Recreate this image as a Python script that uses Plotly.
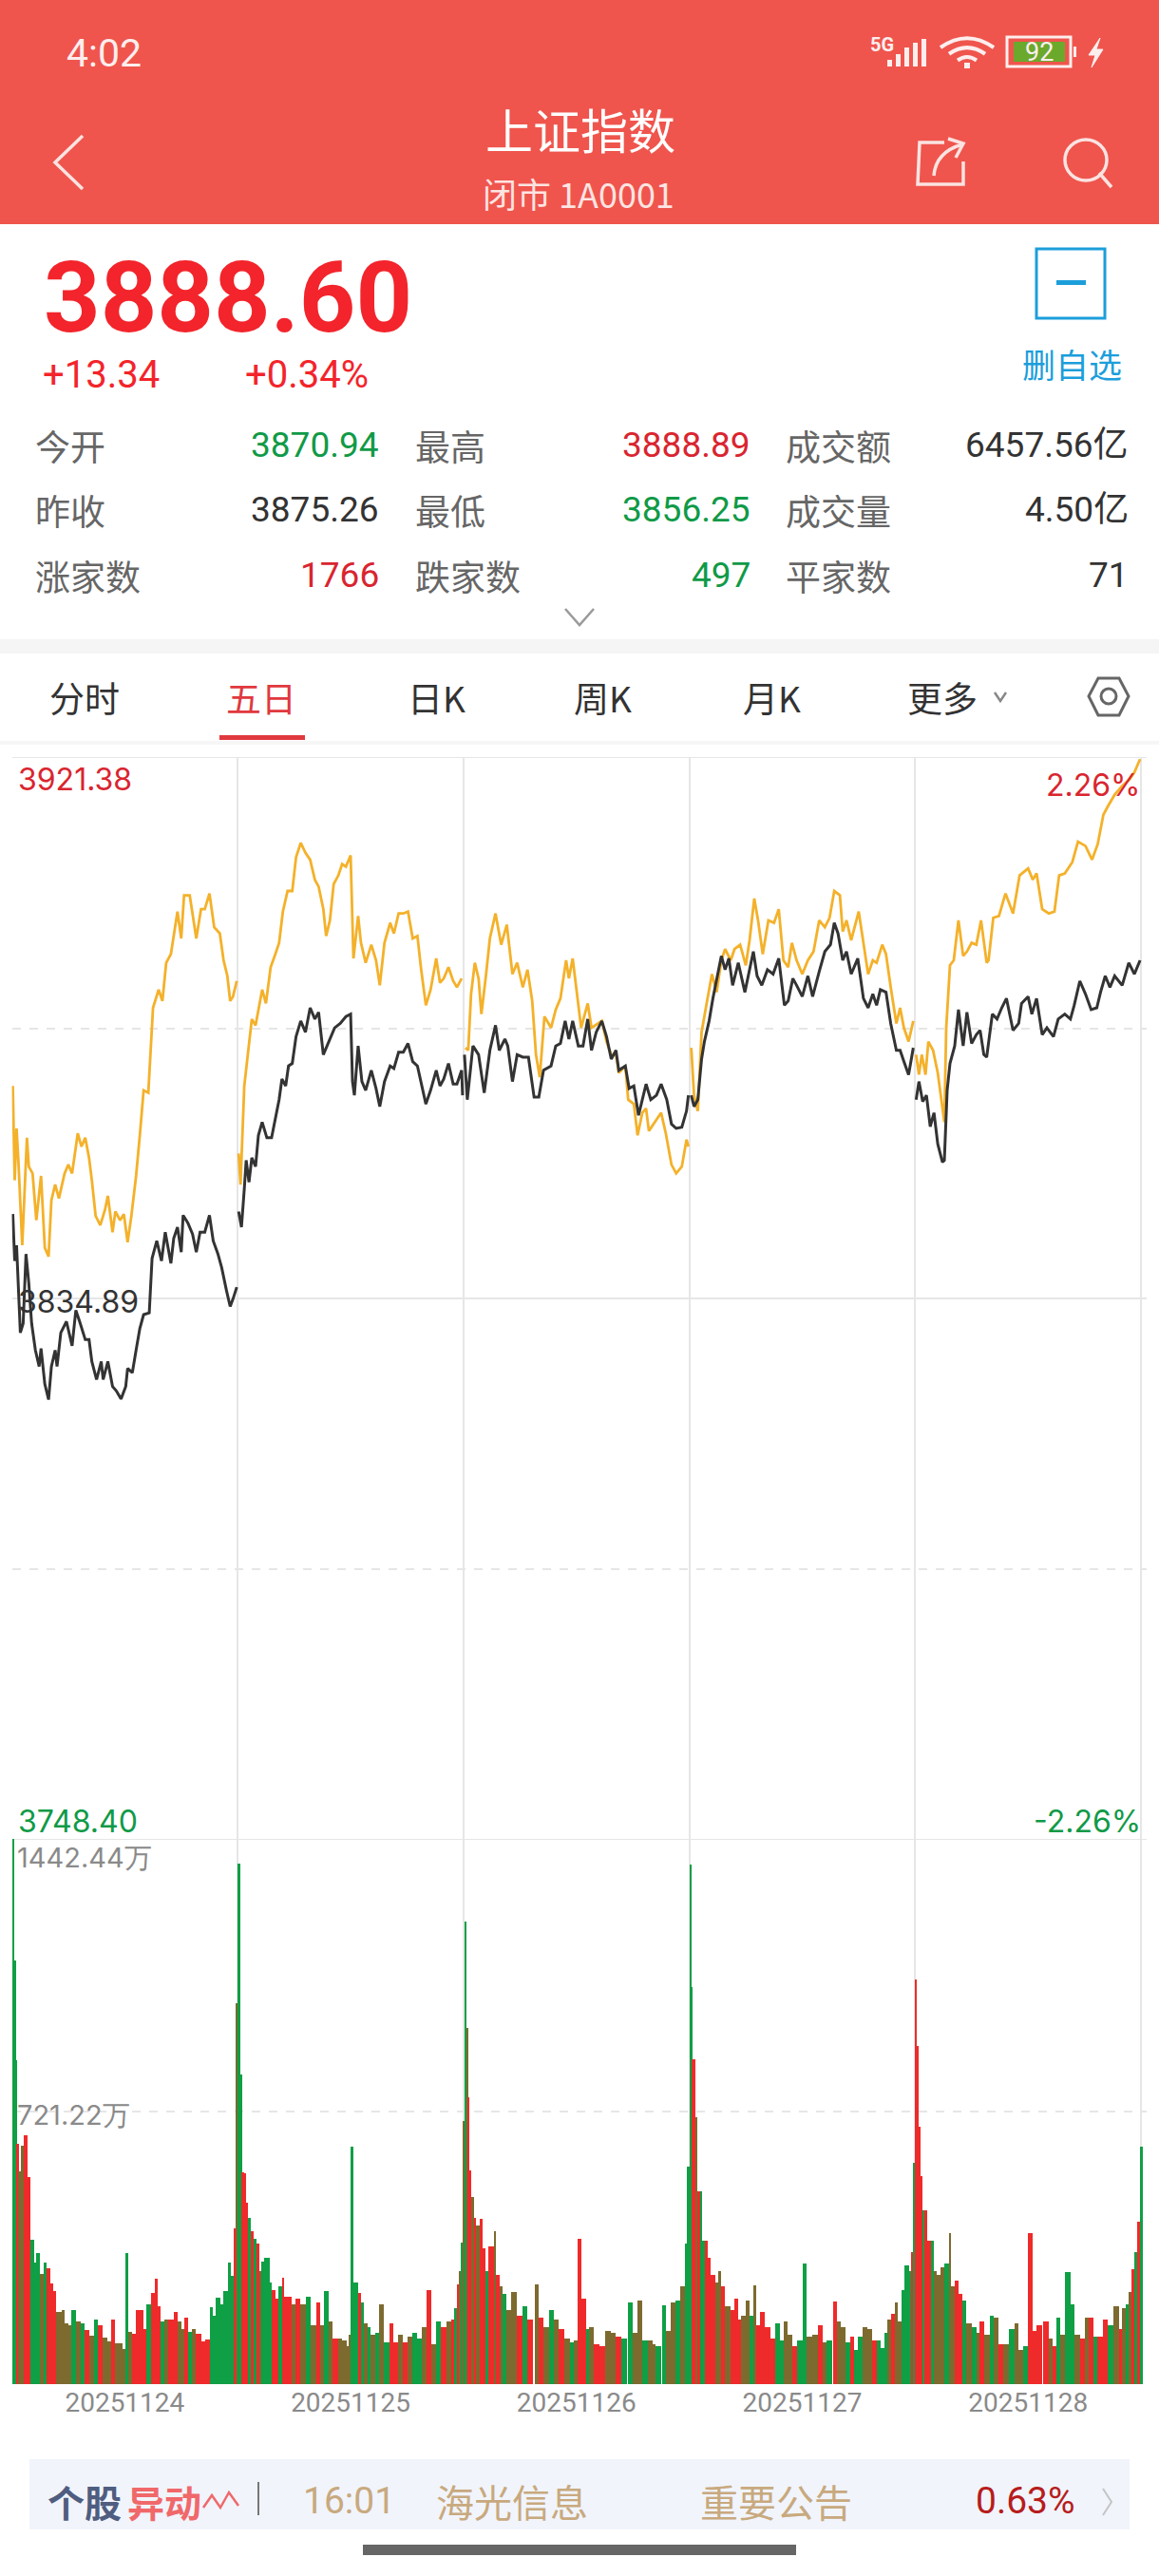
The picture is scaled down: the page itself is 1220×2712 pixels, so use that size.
"""Shanghai Composite five-day screen, rebuilt with Plotly."""

import numpy as np
import plotly.graph_objects as go

W, H = 1220, 2712

# ---------------------------------------------------------------------------
# Data
# ---------------------------------------------------------------------------

PRICE_HIGH = 3921.38
PRICE_MID = 3834.89
PRICE_LOW = 3748.40
VOLUME_MAX = 1442.44
DAY_MINUTES = 240
DATES = ["20251124", "20251125", "20251126", "20251127", "20251128"]

d1_black_min = [1,3,5,9,12,15,18,21,25,29,31,35,39,42,46,48,52,58,64,68,72,78,82,85,90,95,97,102,107,111,116,121,123,128,132,136,140,146,149,154,159,163,169,172,176,180,182,187,192,196,200,205,210,214,219,223,228,232,235,239]
d1_black = [3848.4,3840.9,3843.4,3829.4,3830.9,3842.0,3837.3,3830.9,3826.6,3824.0,3826.9,3821.2,3818.7,3824.0,3826.6,3824.0,3829.4,3831.2,3827.3,3833.0,3831.2,3828.3,3828.3,3824.8,3821.9,3824.8,3821.9,3824.8,3820.8,3820.1,3818.8,3820.8,3823.7,3823.0,3826.6,3830.1,3832.3,3832.6,3841.3,3844.1,3840.9,3845.5,3840.5,3844.5,3846.3,3842.3,3848.2,3847.0,3845.2,3842.3,3845.5,3845.5,3848.2,3844.1,3842.0,3839.8,3836.2,3833.6,3834.8,3836.7]
d1_gold_min = [1,3,5,7,11,13,16,18,22,26,31,35,39,42,46,50,56,60,64,70,74,78,82,85,89,94,99,102,107,110,115,119,123,127,132,136,140,145,150,156,160,164,169,176,180,183,189,196,201,205,210,215,221,225,229,232,235,239]
d1_gold = [3868.9,3853.8,3862.1,3856.7,3843.4,3849.5,3860.6,3856.0,3854.9,3847.4,3854.5,3843.0,3841.6,3850.6,3853.1,3850.9,3854.9,3856.3,3854.9,3861.3,3859.2,3860.6,3857.4,3853.8,3848.1,3846.6,3849.1,3851.3,3845.5,3848.8,3847.4,3848.4,3843.9,3848.1,3854.5,3861.0,3868.2,3867.8,3881.4,3884.3,3882.5,3888.6,3890.0,3896.8,3892.5,3899.4,3899.4,3892.5,3897.2,3897.2,3899.7,3894.3,3893.3,3889.0,3886.5,3882.5,3883.2,3885.7]

d2_black_min = [1,4,7,9,12,15,19,22,26,31,36,40,44,47,51,54,58,62,67,72,77,82,86,91,97,103,109,115,120,122,124,128,132,136,142,147,151,156,162,166,171,176,181,186,191,195,200,205,211,215,219,224,229,233,238,239]
d2_black = [3848.8,3846.3,3852.4,3857.0,3853.5,3857.4,3856.0,3861.0,3863.1,3860.6,3860.6,3863.9,3866.7,3870.0,3868.9,3872.1,3872.5,3876.8,3879.3,3877.5,3881.4,3879.6,3880.7,3873.9,3876.0,3878.2,3878.9,3880.0,3880.4,3869.6,3867.4,3875.3,3869.6,3868.2,3871.4,3868.5,3865.6,3869.6,3872.1,3871.7,3874.3,3874.3,3875.7,3872.8,3872.1,3869.6,3866.0,3868.2,3871.4,3868.9,3870.0,3872.5,3869.2,3869.2,3871.4,3867.4]
d2_gold_min = [1,3,7,10,15,19,23,26,30,35,40,44,48,53,58,62,67,72,77,82,86,91,94,98,102,107,111,115,120,121,123,128,131,136,142,147,151,156,162,166,171,176,181,186,191,195,200,205,211,215,219,224,229,233,238]
d2_gold = [3858.1,3853.1,3868.9,3872.8,3879.6,3878.6,3881.8,3884.3,3882.1,3887.9,3890.0,3891.8,3896.8,3900.1,3900.1,3905.5,3907.8,3906.2,3905.1,3901.9,3900.8,3897.2,3892.9,3895.4,3901.2,3902.6,3904.4,3904.0,3905.8,3899.7,3889.3,3896.1,3891.8,3888.6,3891.5,3889.0,3885.0,3891.8,3895.0,3893.3,3896.5,3896.5,3896.8,3892.5,3892.9,3887.5,3881.8,3884.3,3889.3,3885.4,3886.1,3887.9,3885.7,3884.7,3886.1]

d3_black_min = [1,4,10,16,22,28,34,38,44,47,52,57,63,69,75,80,85,93,98,103,108,112,116,122,127,132,136,141,147,152,157,162,165,172,176,181,186,190,194,199,205,210,216,221,226,232,237,239]
d3_black = [3873.9,3866.7,3875.3,3873.9,3867.8,3874.6,3878.6,3874.6,3876.4,3875.3,3869.6,3873.9,3873.5,3873.5,3867.1,3867.1,3871.4,3872.1,3875.3,3875.7,3879.3,3876.4,3879.3,3875.3,3875.3,3879.6,3874.6,3877.5,3879.3,3876.8,3873.2,3874.6,3871.4,3872.1,3868.5,3868.9,3864.2,3866.7,3869.2,3866.7,3867.4,3869.2,3866.7,3862.8,3862.1,3862.3,3864.9,3867.4]
d3_gold_min = [2,5,8,12,16,19,24,28,34,40,46,52,57,63,68,73,77,81,86,93,98,103,109,112,116,122,125,132,136,143,147,152,157,162,165,172,175,181,185,190,194,197,205,210,215,221,226,232,237,239]
d3_gold = [3875.0,3874.6,3883.6,3888.6,3886.1,3880.4,3886.8,3892.5,3896.5,3891.5,3894.7,3886.8,3888.6,3884.7,3887.5,3882.5,3873.9,3870.3,3880.0,3878.2,3881.1,3882.9,3889.0,3886.1,3889.3,3881.8,3878.2,3882.1,3878.2,3878.9,3879.3,3876.0,3873.9,3873.9,3871.0,3872.1,3866.7,3866.0,3861.0,3864.6,3865.3,3861.7,3863.5,3864.6,3861.3,3856.3,3854.9,3856.0,3860.3,3859.2]

d4_black_min = [2,5,9,13,16,21,25,29,34,38,42,46,52,59,64,68,72,77,83,89,95,101,105,110,114,120,126,131,138,144,150,154,158,163,167,172,179,185,190,195,199,203,209,214,220,224,228,233,238]
d4_black = [3867.4,3865.6,3866.7,3873.2,3876.0,3879.3,3882.9,3886.1,3889.7,3887.5,3889.3,3885.0,3888.6,3883.9,3887.5,3890.4,3886.5,3885.0,3887.5,3886.8,3889.3,3881.8,3882.5,3886.1,3885.0,3883.2,3886.5,3883.2,3887.2,3890.4,3891.5,3895.0,3893.3,3889.0,3890.4,3886.8,3889.3,3882.9,3881.4,3883.6,3881.8,3884.3,3883.9,3878.9,3874.6,3874.6,3872.8,3870.7,3875.0]
d4_gold_min = [2,5,9,13,18,24,29,34,38,44,48,54,60,64,69,73,78,84,90,95,100,105,109,114,120,126,132,138,144,149,154,160,163,167,172,180,185,190,195,199,205,209,214,220,224,228,233,238]
d4_gold = [3875.0,3867.4,3864.9,3877.5,3881.8,3886.8,3883.9,3889.0,3890.8,3889.0,3890.8,3891.5,3888.2,3892.2,3898.9,3895.4,3890.0,3895.4,3895.0,3897.2,3889.0,3887.9,3891.8,3889.0,3886.8,3889.0,3890.4,3895.4,3894.3,3895.8,3900.1,3899.4,3893.6,3895.4,3892.2,3896.8,3891.8,3886.8,3889.0,3888.6,3891.5,3890.0,3884.7,3878.9,3881.4,3878.2,3876.0,3879.3]

d5_black_min = [1,4,8,12,16,20,24,29,31,34,37,42,46,51,55,60,65,69,73,76,82,87,92,97,104,110,113,120,124,129,135,140,147,152,159,165,169,175,181,187,193,197,202,207,212,220,227,233,239]
d5_black = [3866.7,3869.6,3866.4,3867.4,3862.4,3864.6,3859.6,3856.7,3857.0,3868.2,3872.5,3875.3,3881.1,3875.3,3880.7,3875.7,3877.1,3877.8,3873.9,3873.5,3880.4,3879.6,3881.4,3882.9,3877.8,3878.9,3882.1,3883.2,3880.4,3882.9,3877.1,3878.2,3876.8,3879.6,3880.4,3879.6,3881.8,3885.7,3883.6,3881.1,3881.4,3883.9,3886.5,3884.7,3886.5,3885.0,3888.6,3886.8,3889.0]
d5_gold_min = [1,4,7,11,14,19,24,27,31,33,37,41,46,51,55,60,65,70,76,78,83,89,96,104,111,120,125,129,135,142,148,153,159,167,173,181,188,194,200,205,212,220,228,233,237,239]
d5_gold = [3873.9,3870.7,3873.9,3870.7,3876.0,3874.6,3871.0,3867.4,3863.1,3878.2,3888.2,3889.0,3895.4,3889.7,3890.4,3891.8,3891.5,3895.4,3888.6,3889.0,3895.8,3896.1,3899.7,3896.5,3902.6,3903.7,3901.9,3902.9,3897.2,3896.5,3896.8,3902.6,3902.9,3904.7,3908.0,3907.3,3905.1,3907.6,3912.3,3913.7,3915.5,3916.9,3918.0,3919.1,3920.5,3921.2]

# volume in 万; minute counted from the start of the first day
vol_min = [1,2,4,5,7,9,12,16,19,23,25,29,33,36,40,43,46,52,56,60,63,68,73,77,82,87,91,96,101,105,109,113,117,120,123,127,131,136,139,142,147,151,154,158,162,166,172,176,180,183,187,191,195,201,205,210,213,216,221,225,227,230,232,235,238,
           240,242,244,246,248,250,253,256,259,262,265,268,271,274,276,280,283,287,289,293,297,301,306,312,317,323,327,331,336,340,346,350,355,358,360,362,367,371,374,378,381,386,390,395,401,405,410,415,420,425,430,435,440,445,450,455,461,466,469,472,475,477,479,
           481,483,484,486,488,491,493,497,500,503,506,512,514,518,521,525,530,536,542,547,555,559,564,570,575,581,587,593,597,601,605,610,613,618,624,630,636,641,647,654,659,664,669,675,680,684,691,695,700,705,710,715,717,
           720,721,722,726,728,731,733,736,739,742,747,750,753,757,763,767,771,774,779,783,787,791,795,800,806,811,816,820,824,829,834,840,844,850,856,861,865,872,876,880,885,890,895,899,904,909,914,919,923,927,930,934,938,941,945,948,953,956,958,
           960,961,963,965,967,970,972,976,979,982,986,990,995,998,1002,1006,1010,1014,1020,1025,1028,1033,1039,1043,1048,1053,1059,1065,1069,1074,1079,1084,1088,1095,1102,1106,1110,1114,1119,1125,1129,1135,1140,1144,1149,1153,1159,1164,1170,1176,1179,1183,1186,1189,1192,1195,1198]
vol_val = [1442,1122,857,637,562,632,659,547,382,322,347,292,322,307,267,247,192,197,162,157,197,167,162,142,127,172,157,122,112,172,107,107,92,347,137,132,197,197,147,212,242,279,207,167,172,172,192,167,147,177,137,147,132,112,117,204,182,229,212,247,247,322,287,412,1007,
           1377,820,560,558,480,440,405,385,372,300,325,335,335,270,250,225,260,282,232,232,210,225,210,232,155,215,155,247,165,120,120,115,100,130,627,270,242,215,160,150,130,135,212,110,160,110,130,110,125,135,120,150,250,105,165,150,165,170,200,265,300,375,695,
           1225,942,760,565,495,440,420,437,360,300,365,405,290,260,240,195,245,180,205,170,265,175,150,195,170,145,120,110,115,385,227,145,150,105,100,140,135,125,120,215,135,220,115,115,105,100,208,140,215,220,260,373,575,
           1375,1050,860,705,510,510,380,380,335,290,270,298,260,205,195,225,170,180,220,180,262,155,190,150,120,160,115,165,130,100,115,320,125,130,155,110,115,218,165,150,110,125,90,125,150,145,115,115,95,135,170,185,215,165,250,315,300,350,585,
           1070,895,680,550,460,460,380,380,300,290,310,320,400,260,275,240,220,160,150,135,165,130,180,175,105,105,145,160,90,100,400,140,155,165,120,100,175,130,297,210,130,120,175,175,125,125,170,155,205,145,200,210,245,305,350,430,627]
# r = up, g = down, m = packed red and green that reads as olive
vol_dir = ("gggrmmrrgggmgrrrmmmmgmgrmgrmmrmmmgmrrrrgrrrgmrrmmrggmrrrggggggggr"[:64] + "m"
           + "ggrrrgrgrmgggggrrgrrrmrmgmrmgmrmmmmggrgmgmgmgrrmrmggmgrrmmgmrrgrggrrrm"[:0]
           + "ggrrrgrgrmggggrrgrrrmrmgmrmgmrmmmmggrgmgmgmgrrmrmggmrmgrmrrggrrrm"[:0])


def _pad(codes, n):
    return (codes + "m" * n)[:n]


vol_dir_d1 = "gggrmmrrgggmgrrrmmmmgmgrmgrmmrmmmgmrrrrgrrrgmrrmmrgmrrrggggggggrm"
vol_dir_d2 = "ggrrrgrgrmggggrrgrrrmrmgmrmgmrmmmmggrgmgmgmgrrmrmggmrmgrmrgrmgmgmrrmrm"
vol_dir_d3 = "rrgrmrmgmmrgrmrmgmrmgmrrgmrrmmrggmmgmmggmmgmggggrm"
vol_dir_d4 = "rggrrrmmrmrrrmmgmrrrrggmmrgGmmrmgrmmgrggmmrgggmrmmgggrgrrrr".lower()
vol_dir_d5 = "grrgmmmgmmrrgmgmrmgmrmgmmgrrrrmrgmggmrmrgrrgmrmgmrgrgr"

bar_colors = {"r": "#ef2a2a", "g": "#0f9f45", "m": "#7d6a2f"}

# ---------------------------------------------------------------------------
# Helpers
# ---------------------------------------------------------------------------


def px(x):
    return x / W


def py(y):
    return 1 - y / H


def join_days(mins, vals):
    xs, ys = [], []
    for day, (m, v) in enumerate(zip(mins, vals)):
        assert len(m) == len(v), (day, len(m), len(v))
        xs += [day * DAY_MINUTES + t for t in m] + [None]
        ys += list(v) + [None]
    return xs, ys


annotations = []
shapes = []
CJK = "Noto Sans CJK SC"


def label(text, x, y, size, color, anchor="left", font=CJK, bold=False):
    if bold:
        text = f"<b>{text}</b>"
    annotations.append(dict(
        text=text, x=px(x), y=py(y), xref="paper", yref="paper", showarrow=False,
        xanchor=anchor, yanchor="middle", align=anchor,
        font=dict(size=size, color=color, family=font),
        borderpad=0, borderwidth=0,
    ))


def rect(x0, y0, x1, y1, fill, line=None, width=0):
    shapes.append(dict(
        type="rect", xref="paper", yref="paper", layer="above",
        x0=px(x0), x1=px(x1), y0=py(y0), y1=py(y1), fillcolor=fill,
        line=dict(color=line or fill, width=width),
    ))


def polyline(points, color, width=3, close=False, fill=None):
    path = "M " + " L ".join(f"{px(x):.5f} {py(y):.5f}" for x, y in points)
    if close:
        path += " Z"
    shapes.append(dict(
        type="path", xref="paper", yref="paper", layer="above", path=path,
        fillcolor=fill or "rgba(0,0,0,0)", line=dict(color=color, width=width),
    ))


def curve(d, color, width=3):
    """d: list of (command, pts...) in picture pixels."""
    parts = []
    for cmd, *pts in d:
        parts.append(cmd + " " + " ".join(f"{px(x):.5f} {py(y):.5f}" for x, y in pts))
    shapes.append(dict(
        type="path", xref="paper", yref="paper", layer="above", path=" ".join(parts),
        fillcolor="rgba(0,0,0,0)", line=dict(color=color, width=width),
    ))


# ---------------------------------------------------------------------------
# Chart
# ---------------------------------------------------------------------------

fig = go.Figure()

gold_x, gold_y = join_days(
    [d1_gold_min, d2_gold_min, d3_gold_min, d4_gold_min, d5_gold_min],
    [d1_gold, d2_gold, d3_gold, d4_gold, d5_gold],
)
black_x, black_y = join_days(
    [d1_black_min, d2_black_min, d3_black_min, d4_black_min, d5_black_min],
    [d1_black, d2_black, d3_black, d4_black, d5_black],
)
fig.add_trace(go.Scatter(x=gold_x, y=gold_y, mode="lines", line=dict(color="#f4b12a", width=2.8)))
fig.add_trace(go.Scatter(x=black_x, y=black_y, mode="lines", line=dict(color="#333333", width=3)))

vol_dir = vol_dir_d1 + vol_dir_d2 + vol_dir_d3 + vol_dir_d4 + vol_dir_d5
vol_dir = _pad(vol_dir, len(vol_min))
assert len(vol_min) == len(vol_val), (len(vol_min), len(vol_val))
widths = np.clip(np.diff(vol_min + [vol_min[-1] + 3]), 1.5, 6)
fig.add_trace(go.Bar(
    x=vol_min, y=vol_val, width=widths, offset=0,
    marker=dict(color=[bar_colors[c] for c in vol_dir], line=dict(width=0)),
    xaxis="x2", yaxis="y2",
))

GRID = "#e6e6e6"
day_edges = [i * DAY_MINUTES for i in range(6)]
day_centers = [i * DAY_MINUTES + DAY_MINUTES / 2 for i in range(5)]
x_range = [0, 1206]

fig.update_layout(
    width=W, height=H, autosize=False, showlegend=False,
    margin=dict(l=0, r=0, t=0, b=0),
    paper_bgcolor="white", plot_bgcolor="white", bargap=0,
    xaxis=dict(
        domain=[px(12.5), px(1207)], range=x_range, tickvals=day_edges, ticktext=[""] * 6,
        showgrid=True, gridcolor=GRID, gridwidth=2, zeroline=False, ticks="",
        showline=True, linecolor=GRID, mirror=True, anchor="y",
    ),
    yaxis=dict(
        domain=[py(1936), py(798)], range=[PRICE_LOW, PRICE_HIGH],
        tickvals=[PRICE_LOW, PRICE_MID, PRICE_HIGH], ticktext=["", "", ""],
        showgrid=True, gridcolor=GRID, gridwidth=1.5, zeroline=False, ticks="",
        minor=dict(tickvals=[(PRICE_MID + PRICE_HIGH) / 2, (PRICE_MID + PRICE_LOW) / 2],
                   showgrid=True, griddash="dash", gridcolor=GRID, gridwidth=1.5, ticks=""),
        anchor="x",
    ),
    xaxis2=dict(
        domain=[px(12.5), px(1207)], range=x_range, tickvals=day_centers, ticktext=DATES,
        tickfont=dict(family="Roboto", size=28, color="#8a8a8a"), ticks="",
        showgrid=False, zeroline=False, anchor="y2",
        minor=dict(tickvals=day_edges, showgrid=True, gridcolor=GRID, gridwidth=1.5, ticks=""),
    ),
    yaxis2=dict(
        domain=[py(2510), py(1936)], range=[0, VOLUME_MAX],
        tickvals=[VOLUME_MAX], ticktext=[""], showgrid=True, gridcolor=GRID, gridwidth=1.5,
        zeroline=False, ticks="", anchor="x2",
        minor=dict(tickvals=[VOLUME_MAX / 2], showgrid=True, griddash="dash",
                   gridcolor=GRID, gridwidth=1.5, ticks=""),
    ),
)

# chart labels
NUM = "Inter"
RED = "#d9252f"
GREEN = "#109a47"
label("3921.38", 19, 820, 32, RED, font=NUM)
label("3834.89", 19, 1370, 32, "#333333", font=NUM)
label("3748.40", 19, 1917, 32, GREEN, font=NUM)
label("2.26%", 1201, 826, 32, RED, anchor="right", font=NUM)
label("-2.26%", 1201, 1917, 32, GREEN, anchor="right", font=NUM)
label("1442.44万", 18, 1955, 29, "#8a8a8a", font=NUM)
label("721.22万", 18, 2226, 29, "#8a8a8a", font=NUM)

# ---------------------------------------------------------------------------
# Screen furniture around the chart
# ---------------------------------------------------------------------------

HEADER = "#ef554d"
rect(0, 0, W, 236, HEADER)
label("4:02", 109, 56, 41, "#fdeeee", anchor="center", font="Roboto")
label("5G", 928, 47, 20, "#fdeeee", anchor="center", font="Roboto", bold=True)
for bx, top in [(934, 63), (943, 57), (952, 50), (961, 45), (970, 41)]:
    rect(bx, top, bx + 5, 70, "#fdeeee")
for r in (28, 19, 10):
    curve([("M", (1018 - r, 71 - r * 0.75)), ("Q", (1018, 71 - r * 1.45), (1018 + r, 71 - r * 0.75))], "#fdeeee", 4)
rect(1015, 66, 1021, 72, "#fdeeee")
shapes.append(dict(type="rect", xref="paper", yref="paper", layer="above",
                   x0=px(1060), x1=px(1127), y0=py(70), y1=py(39), fillcolor="rgba(0,0,0,0)",
                   line=dict(color="#fdeeee", width=3)))
rect(1067, 44, 1121, 65, "#6aa92c")
rect(1130, 49, 1133, 60, "#fdeeee")
label("92", 1094, 55, 27, "#fdeeee", anchor="center", font="Roboto")
polyline([(1158, 40), (1146, 58), (1153, 58), (1149, 71), (1161, 52), (1154, 52)], "#fdeeee", 1, close=True, fill="#fdeeee")

label("上证指数", 611, 135, 50, "white", anchor="center")
label("闭市 1A0001", 609, 203, 36, "#fde4e2", anchor="center")
polyline([(87, 143), (58, 171), (87, 199)], "#fbe3e1", 3.5)
polyline([(994, 150), (968, 150), (966, 194), (1014, 194), (1014, 170)], "#fbe3e1", 3.5)
curve([("M", (983, 185)), ("Q", (985, 160), (1013, 152))], "#fbe3e1", 3.5)
polyline([(998, 146), (1014, 151), (1006, 166)], "#fbe3e1", 3.5)
shapes.append(dict(type="circle", xref="paper", yref="paper", layer="above",
                   x0=px(1121), x1=px(1165), y0=py(190), y1=py(147), line=dict(color="#fbe3e1", width=3.5)))
polyline([(1157, 182), (1170, 197)], "#fbe3e1", 3.5)

PRICE_RED = "#f3242b"
label("3888.60", 46, 313, 104, PRICE_RED, font="Roboto", bold=True)
label("+13.34", 45, 394, 40, PRICE_RED, font="Roboto")
label("+0.34%", 258, 394, 40, PRICE_RED, font="Roboto")

BLUE = "#1c9edb"
shapes.append(dict(type="rect", xref="paper", yref="paper", layer="above",
                   x0=px(1091), x1=px(1163), y0=py(335), y1=py(262), fillcolor="white",
                   line=dict(color=BLUE, width=3)))
rect(1112, 295, 1143, 300, BLUE)
label("删自选", 1128, 382, 35, BLUE, anchor="center")

STAT_GRAY = "#666666"
STAT_DARK = "#333333"
STAT_RED = "#d9252f"
STAT_GREEN = "#109a47"
stat_rows = [469, 537, 606]
stat_labels = [["今开", "最高", "成交额"], ["昨收", "最低", "成交量"], ["涨家数", "跌家数", "平家数"]]
stat_values = [["3870.94", "3888.89", "6457.56亿"], ["3875.26", "3856.25", "4.50亿"], ["1766", "497", "71"]]
stat_colors = [[STAT_GREEN, STAT_RED, STAT_DARK], [STAT_DARK, STAT_GREEN, STAT_DARK], [STAT_RED, STAT_GREEN, STAT_DARK]]
label_left = [37, 437, 827]
value_right = [399, 790, 1188]
for row, y in enumerate(stat_rows):
    for col in range(3):
        label(stat_labels[row][col], label_left[col], y, 37, STAT_GRAY)
        label(stat_values[row][col], value_right[col], y, 37, stat_colors[row][col], anchor="right", font=f"Roboto, {CJK}")
polyline([(595, 641), (610, 658), (625, 641)], "#9a9a9a", 2.5)

rect(0, 673, W, 688, "#f5f5f5")
rect(0, 780, W, 784, "#f6f6f6")
tabs = ["分时", "五日", "日K", "周K", "月K", "更多"]
tab_x = [89, 275, 459, 634, 812, 992]
for name, x in zip(tabs, tab_x):
    label(name, x, 734, 37, "#e0393e" if name == "五日" else "#333333", anchor="center")
rect(231, 774, 321, 779, "#e0393e")
polyline([(1047, 729), (1053, 738), (1059, 729)], "#888888", 2.5)
polyline([(1156, 714), (1178, 714), (1188, 733), (1178, 753), (1156, 753), (1146, 733)], "#666666", 3, close=True)
shapes.append(dict(type="circle", xref="paper", yref="paper", layer="above",
                   x0=px(1159), x1=px(1175), y0=py(741), y1=py(725), line=dict(color="#666666", width=3)))

# bottom banner
rect(31, 2589, 1189, 2663, "#f1f4fb")
label("个股", 50, 2633, 39, "#4f5d80", bold=True)
label("异动", 134, 2633, 39, "#f0686a", bold=True)
polyline([(214, 2640), (223, 2627), (232, 2640), (241, 2624), (251, 2638)], "#f0686a", 2.5)
rect(271, 2613, 273, 2648, "#777777")
TAN = "#c8a97e"
label("16:01", 319, 2633, 39, TAN, font="Roboto")
label("海光信息", 459, 2633, 40, TAN)
label("重要公告", 737, 2633, 40, TAN)
label("0.63%", 1132, 2633, 39, "#b71c1c", anchor="right", font="Roboto")
polyline([(1161, 2620), (1170, 2634), (1161, 2648)], "#c4c4c4", 2)
rect(382, 2679, 838, 2690, "#666666")

fig.update_layout(annotations=annotations, shapes=shapes)

fig.write_html(
    "out.html",
    config={"displayModeBar": False},
    post_script="document.body.style.margin='0';document.body.style.overflow='hidden';",
)
